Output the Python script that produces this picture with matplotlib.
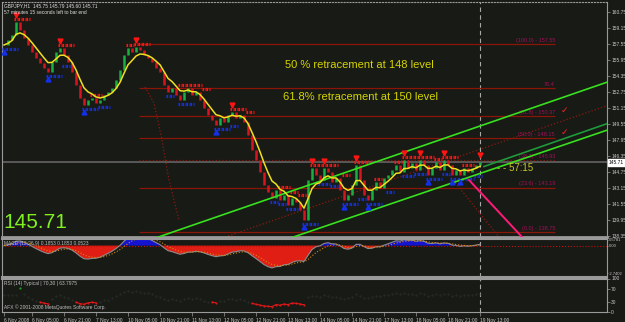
import numpy as np
import pandas as pd
import matplotlib
matplotlib.use('Agg')
import matplotlib.pyplot as plt
import matplotlib.transforms as mtransforms

# closes, one value every 2 H1 bars
closes = [157.45, 157.95, 158.45, 159.75, 158.95, 158.15, 157.45, 156.75, 156.15, 155.65,
          155.15, 154.75, 155.75, 156.75, 157.15, 156.45, 155.75, 154.75, 153.45, 152.15,
          151.45, 151.95, 152.15, 151.65, 151.95, 152.45, 152.75, 153.15, 153.95, 154.95,
          156.45, 157.15, 156.75, 157.25, 156.95, 156.45, 156.15, 155.75, 155.15, 154.75,
          153.45, 152.75, 153.15, 152.45, 151.95, 152.75, 153.15, 152.45, 152.75, 151.95,
          151.15, 150.45, 149.95, 149.45, 150.15, 149.75, 150.45, 150.75, 150.15, 150.45,
          149.75, 148.45, 146.95, 145.95, 144.75, 143.45, 142.75, 142.15, 142.95, 141.95,
          142.45, 141.45, 142.15, 141.75, 140.95, 139.95, 143.95, 145.15, 144.45, 143.95,
          145.15, 144.75, 143.75, 144.15, 142.95, 141.95, 142.45, 143.45, 145.45, 143.95,
          142.45, 141.95, 142.95, 143.75, 143.15, 144.15, 144.45, 144.95, 145.45, 144.75,
          145.95, 145.15, 145.65, 144.95, 145.95, 145.45, 144.45, 145.15, 145.75, 144.95,
          145.95, 145.45, 144.45, 144.95, 144.45, 145.15, 144.75, 145.15, 145.45, 145.71]
last_price = 145.71

fib_low, fib_high = 138.75, 157.55
fib_levels = [0.0, 23.6, 38.2, 50.0, 61.8, 76.4, 100.0]
fib_start, fib_end = 67.5, 275.5
fib_checked = [50.0, 61.8]

price_ticks = [138.35, 139.95, 141.55, 143.15, 144.75, 146.35, 147.95, 149.55,
               151.15, 152.75, 154.35, 155.95, 157.55, 159.15, 160.75]
macd_ticks = [-2.7402, 0.0, 0.5781]
rsi_ticks = [0, 30, 70, 100]

time_bars = [0, 14, 30, 46, 62, 78, 94, 110, 126, 142, 158, 174, 190, 206, 222, 238]
time_labels = ['6 Nov 2008', '6 Nov 05:00', '6 Nov 21:00', '7 Nov 13:00', '10 Nov 05:00',
               '10 Nov 21:00', '11 Nov 13:00', '12 Nov 05:00', '12 Nov 21:00', '13 Nov 13:00',
               '14 Nov 05:00', '14 Nov 21:00', '17 Nov 13:00', '18 Nov 05:00', '18 Nov 21:00',
               '19 Nov 13:00']

upper_channel = [(76.5, 138.2), (302.5, 153.8)]
lower_channel = [(144.0, 138.2), (302.5, 149.0)]
inner_channel = [(240.0, 145.3), (302.5, 149.65)]
dotted_channel = [(110.5, 138.25), (302.5, 151.45)]
arc_bars = [70.5, 75, 79, 82.5, 87.5]
arc_prices = [153.25, 151.65, 147.95, 143.95, 139.95]
pink_line = [(232.5, 143.95), (259.0, 138.25)]
pink_dotted = [(222.5, 144.45), (247.5, 138.25)]

BG = '#181a15'
GRID = '#9a9a9a'
SMALL = dict(family='Liberation Sans', fontsize=3.5)
W, H = 625, 322

s = pd.Series(closes)
xs = np.arange(len(closes)) * 2.0
opens = s.shift(1).fillna(s.iloc[0])
ma = s.ewm(span=5, adjust=False).mean()
macd = s.ewm(span=6, adjust=False).mean() - s.ewm(span=13, adjust=False).mean()
signal = macd.ewm(span=4.5, adjust=False).mean()
delta = s.diff().fillna(0)
up = delta.clip(lower=0).ewm(alpha=1 / 14, adjust=False).mean()
dn = (-delta.clip(upper=0)).ewm(alpha=1 / 14, adjust=False).mean()
rsi = 100 - 100 / (1 + up / dn.replace(0, np.nan))
rsi = rsi.fillna(50)


def box(x0, y0, x1, y1):
    return [x0 / W, 1 - y1 / H, (x1 - x0) / W, (y1 - y0) / H]


fig = plt.figure(figsize=(6.25, 3.22), dpi=100, facecolor=BG)
ax = fig.add_axes(box(2, 2, 607, 237))
axm = fig.add_axes(box(2, 238.5, 607, 277))
axr = fig.add_axes(box(2, 278.5, 607, 312))

for a in (ax, axm, axr):
    a.set_facecolor(BG)
    a.set_xlim(-1, 301.5)
    for sp in a.spines.values():
        sp.set_color(GRID)
        sp.set_linewidth(0.8)
    a.yaxis.tick_right()
    a.tick_params(axis='y', colors=GRID, labelcolor='#c8c8c8', length=2, width=0.5, pad=1)
    a.axvline(238, color='#a8a8a8', lw=0.8, ls=(0, (4, 3)), zorder=1)
ax.spines['top'].set_linestyle(':')
ax.spines['bottom'].set_linewidth(2)
axm.spines['top'].set_linewidth(1.5)
axm.spines['bottom'].set_linewidth(1.5)
axr.spines['top'].set_linewidth(1.5)

# main price panel
ax.set_ylim(138.25, 161.75)
ax.set_yticks(price_ticks)
ax.set_yticklabels([f'{v:.2f}' for v in price_ticks], **SMALL)
ax.set_xticks([])

ax.axhline(last_price, color='#6a6a6a', lw=1.1, zorder=1)
span = fib_high - fib_low
for lv in fib_levels:
    p = fib_low + span * lv / 100
    ls = ':' if lv == 38.2 else '-'
    ax.hlines(p, fib_start, fib_end, color='#8a1608', lw=0.9, linestyles=ls, zorder=1)
    lab = '76.4' if lv == 76.4 else f'({lv:.1f}) - {p:.2f}'
    ax.text(fib_end, p + 0.12, lab, ha='right', va='bottom', fontsize=4,
            family='Liberation Sans', color='#a01058')
    if lv in fib_checked:
        ax.text(fib_end + 3, p + 0.1, '\u2713', ha='left', va='bottom', fontsize=6.5,
                color='#ff2020')

ax.plot(*zip(*dotted_channel), color='#8a1a10', lw=0.9, ls=':', zorder=2)
ax.plot(arc_bars, arc_prices, color='#8a1a10', lw=0.9, ls=':', zorder=2)
ax.plot(*zip(*pink_dotted), color='#8a1a10', lw=0.9, ls=':', zorder=2)
ax.plot(*zip(*upper_channel), color='#38e020', lw=1.2, zorder=4)
ax.plot(*zip(*lower_channel), color='#38e020', lw=1.2, zorder=4)
ax.plot(*zip(*inner_channel), color='#1f9a3a', lw=1.2, zorder=4)
ax.plot(*zip(*pink_line), color='#ff1a7a', lw=1.4, zorder=4)

# swing levels: red above, blue below, only where the level is held
hi_lvl = s.rolling(4, min_periods=1).max() + 0.35
lo_lvl = s.rolling(4, min_periods=1).min() - 0.35
for lvl, col in ((hi_lvl, '#ff1414'), (lo_lvl, '#1430e6')):
    held = ((lvl == lvl.shift(1)) | (lvl == lvl.shift(-1))).values
    ax.hlines(lvl.values[held], xs[held] - 1.2, xs[held] + 1.2, colors=col, lw=2.3,
              linestyles=(0, (0.5, 0.45)), zorder=3)

bull = s.values >= opens.values
ax.vlines(xs[bull], opens.values[bull], s.values[bull], color='#18b040', lw=1.8, zorder=3)
ax.vlines(xs[~bull], opens.values[~bull], s.values[~bull], color='#d81420', lw=1.8, zorder=3)
ax.plot(xs, ma, color='#f0e020', lw=1.1, zorder=5)

lows = s == s.rolling(13, center=True, min_periods=1).min()
highs = s == s.rolling(13, center=True, min_periods=1).max()
ax.plot(xs[lows.values], s[lows].values - 0.7, ls='none', marker='^', ms=3.5,
        color='#1430e6', zorder=5)
ax.plot(xs[highs.values], s[highs].values + 0.7, ls='none', marker='v', ms=3.5,
        color='#ff1414', zorder=5)

tr = mtransforms.blended_transform_factory(ax.transAxes, ax.transData)
ax.text(1.003, last_price, f'{last_price:.2f}', transform=tr, ha='left', va='center',
        color='black', bbox=dict(boxstyle='square,pad=0.15', fc='white', ec='white'),
        **SMALL)

# MACD panel
axm.set_ylim(-3.1, 0.7)
axm.set_yticks(macd_ticks)
axm.set_yticklabels(['-2.7402', '0.00', '0.5781'], family='Liberation Sans', fontsize=3.0)
axm.tick_params(axis='y', length=1, pad=0.5)
axm.set_xticks([])
axm.axhline(0, color='#c01010', lw=0.8, ls=':')
axm.fill_between(xs, macd, 0, where=macd < 0, interpolate=True, color='#e01e14', lw=0)
axm.fill_between(xs, macd, 0, where=macd > 0, interpolate=True, color='#1414d0', lw=0)
axm.plot(xs, macd, color='#8c8c8c', lw=0.8)
axm.plot(xs, signal, color='#d88a10', lw=0.8, ls=':')

# RSI panel
axr.set_ylim(0, 100)
axr.set_yticks(rsi_ticks)
axr.set_yticklabels(['0', '30', '70', '100'], **SMALL)
axr.plot(xs, rsi.where(rsi.between(30, 70)), ls='none', marker='.', ms=0.6, color='#3a3a3a')
axr.plot(xs, rsi.where(rsi > 70), color='#20c020', lw=0.8, marker='.', ms=1)
axr.plot(xs, rsi.where(rsi < 30), color='#e01818', lw=0.8, marker='.', ms=1)
axr.set_xticks(time_bars)
axr.set_xticklabels(time_labels, **SMALL)
axr.tick_params(axis='x', colors=GRID, labelcolor='#c8c8c8', length=3, width=0.5, pad=1)
for lbl in axr.get_xticklabels():
    lbl.set_ha('left')

# texts
fig.text(4 / W, 1 - 6 / H, 'GBPJPY,H1  145.75 145.79 145.60 145.71', color='#e0e0e0',
         va='center', **SMALL)
fig.text(4 / W, 1 - 12 / H, '57 minutes 15 seconds left to bar end', color='#e0e0e0',
         va='center', **SMALL)
fig.text(285 / W, 1 - 65 / H, '50 % retracement at 148 level', fontsize=8,
         color='#d4d400', va='center', family='Liberation Sans')
fig.text(283 / W, 1 - 97 / H, '61.8% retracement at 150 level', fontsize=8,
         color='#d4d400', va='center', family='Liberation Sans')
fig.text(497 / W, 1 - 168 / H, '- - 57:15', fontsize=7, color='#c8c828', va='center',
         family='Liberation Sans')
fig.text(3 / W, 1 - 222 / H, f'{last_price:.2f}', fontsize=15, color='#80f020',
         va='center', family='Liberation Sans')
fig.text(4 / W, 1 - 243 / H, 'MACD (12,26,9) 0.1853 0.1853 0.0523', color='#c0c0c0',
         va='center', **SMALL)
fig.text(4 / W, 1 - 283 / H, 'RSI (14) Typical | 70,30 | 63.7975', color='#c0c0c0',
         va='center', **SMALL)
fig.text(4 / W, 1 - 307 / H, 'AFX \u00a9 2001-2008 MetaQuotes Software Corp.',
         color='#c0c0c0', va='center', **SMALL)

fig.savefig('out.png', dpi=100, facecolor=BG)
